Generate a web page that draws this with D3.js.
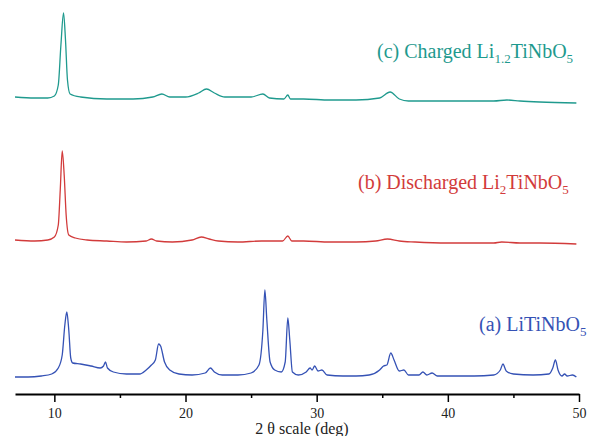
<!DOCTYPE html>
<html>
<head>
<meta charset="utf-8">
<script src="https://cdn.jsdelivr.net/npm/d3@7"></script>
<style>
  body { margin: 0; background: #fff; }
</style>
</head>
<body>
<div id="chart"></div>
<script>
// 2 theta (deg) and intensity (a.u., relative to each trace's own baseline)
const thetaA = [7.0, 8.0, 9.0, 9.8, 10.3, 10.6, 10.8, 10.95, 11.1, 11.25, 11.4, 12.0, 12.8, 13.5, 13.75, 13.9, 14.05, 14.5,
  15.5, 16.5, 17.0, 17.4, 17.7, 17.95, 18.1, 18.4, 18.8, 19.5, 20.5, 21.5, 21.9, 22.2, 22.8, 24.0, 25.0, 25.6, 25.9,
  26.05, 26.2, 26.45, 26.8, 27.3, 27.6, 27.8, 27.95, 28.15, 28.6, 29.2, 29.5, 29.65, 29.85, 30.1, 30.4, 30.8, 32.0,
  33.0, 34.0, 34.8, 35.1, 35.35, 35.65, 35.9, 36.3, 36.65, 37.0, 37.8, 38.1, 38.4, 38.8, 39.2, 40.5, 42.0, 43.5,
  44.0, 44.2, 44.45, 45.0, 46.5, 47.7, 48.0, 48.2, 48.4, 48.7, 48.9, 49.1, 49.5, 49.8];
const intensityA = [1, 1, 2, 4, 10, 23, 53, 66, 48, 20, 15, 14, 12, 10, 12, 16, 10, 6,
  4, 4, 8, 13, 18, 34, 32, 16, 8, 4, 3, 5, 10, 6, 3, 3, 5, 13, 48,
  88, 58, 16, 8, 6, 16, 60, 38, 6, 3, 6, 10, 8, 12, 7, 8, 3, 2,
  2, 3, 8, 12, 13, 25, 18, 7, 8, 3, 3, 6, 3, 5, 2, 2, 2, 3,
  8, 14, 7, 4, 3, 4, 10, 18, 8, 2, 4, 2, 3, 1];

const thetaB = [7.0, 8.5, 9.5, 10.0, 10.3, 10.45, 10.6, 10.75, 10.9, 11.1, 11.6, 12.5, 14.0, 15.5, 17.0, 17.4, 17.8,
  19.0, 20.5, 21.2, 21.8, 22.5, 24.0, 25.8, 27.4, 27.8, 28.1, 29.0, 31.0, 33.0, 34.5, 35.4, 36.3, 37.5, 40.0,
  43.5, 44.1, 45.5, 47.0, 49.8];
const intensityB = [3, 2, 3, 6, 18, 53, 92, 68, 28, 8, 5, 3, 2, 1, 2, 4, 2,
  1, 3, 6, 4, 2, 1, 2, 2, 7, 2, 2, 1, 1, 2, 4, 2, 1, 0,
  0, 1, 0, 0, -1];

const thetaC = [7.0, 8.5, 9.5, 10.0, 10.3, 10.5, 10.7, 10.85, 11.0, 11.2, 12.0, 14.0, 16.0, 17.5, 18.2, 18.8, 20.0,
  21.0, 21.6, 22.2, 23.0, 25.0, 25.9, 26.4, 27.5, 27.8, 28.0, 29.0, 31.0, 33.0, 34.8, 35.6, 36.3, 37.0, 40.0,
  43.5, 44.5, 45.5, 47.0, 49.8];
const intensityC = [6, 5, 5, 7, 18, 58, 90, 63, 23, 9, 6, 4, 4, 6, 9, 6, 6,
  10, 14, 10, 6, 6, 9, 5, 4, 8, 4, 4, 3, 3, 5, 11, 4, 2, 2,
  2, 3, 2, 1, 0];

// vertical stacking of the three patterns (a.u.)
const offsets = [0, 135, 275];
const colors = ['#3552b5', '#d23b3b', '#1f9a8e'];
const xTicks = [10, 20, 30, 40, 50];
const xMinorTicks = [15, 25, 35, 45];

const series = [
  { theta: thetaA, intensity: intensityA, label: ['(a)  LiTiNbO', '5'] },
  { theta: thetaB, intensity: intensityB, label: ['(b)  Discharged Li', '2', 'TiNbO', '5'] },
  { theta: thetaC, intensity: intensityC, label: ['(c)  Charged Li', '1.2', 'TiNbO', '5'] },
];
const labelPos = [[479, 331], [358, 189], [377, 58]];

const width = 594;
const height = 436;
const serif = 'Liberation Serif';

const svg = d3.select('#chart').append('svg')
  .attr('width', width)
  .attr('height', height)
  .style('font-family', serif);

const x = d3.scaleLinear().domain([7, 50]).range([15, 579]);
const y = d3.scaleLinear().domain([0, 370]).range([378, 8]);

const line = d3.line()
  .x((d) => x(d[0]))
  .y((d) => y(d[1]))
  .curve(d3.curveMonotoneX);

series.forEach((s, i) => {
  const pts = s.theta.map((t, j) => [t, s.intensity[j] + offsets[i]]);
  svg.append('path')
    .datum(pts)
    .attr('fill', 'none')
    .attr('stroke', colors[i])
    .attr('stroke-width', 1.3)
    .attr('stroke-linejoin', 'round')
    .attr('d', line);

  // label with subscripts
  const text = svg.append('text')
    .attr('x', labelPos[i][0])
    .attr('y', labelPos[i][1])
    .attr('fill', colors[i])
    .style('font-family', serif)
    .attr('font-size', 20);
  s.label.forEach((part, k) => {
    const sub = k % 2 == 1;
    text.append('tspan')
      .attr('font-size', sub ? 13 : 20)
      .attr('dy', k == 0 ? 0 : (sub ? 5 : -5))
      .text(part);
  });
});

// bottom axis: major + minor ticks
const axisY = 394;
svg.append('g')
  .attr('transform', `translate(0, ${axisY})`)
  .call(d3.axisBottom(x).tickValues(xMinorTicks).tickSize(4).tickFormat(''))
  .call((g) => g.select('.domain').remove())
  .call((g) => g.selectAll('line').attr('stroke-width', 1.5));

const xAxis = svg.append('g')
  .attr('transform', `translate(0, ${axisY})`)
  .call(d3.axisBottom(x).tickValues(xTicks).tickSize(8).tickSizeOuter(0).tickPadding(6));
xAxis.attr('font-family', null);
xAxis.select('.domain').attr('stroke-width', 2);
xAxis.selectAll('line').attr('stroke-width', 1.5);
xAxis.selectAll('text')
  .style('font-family', serif)
  .attr('font-size', 14)
  .attr('fill', '#222');

svg.append('text')
  .attr('x', 302)
  .attr('y', 434)
  .attr('text-anchor', 'middle')
  .style('font-family', serif)
  .attr('font-size', 16)
  .attr('fill', '#222')
  .text('2 θ scale (deg)');
</script>
</body>
</html>
